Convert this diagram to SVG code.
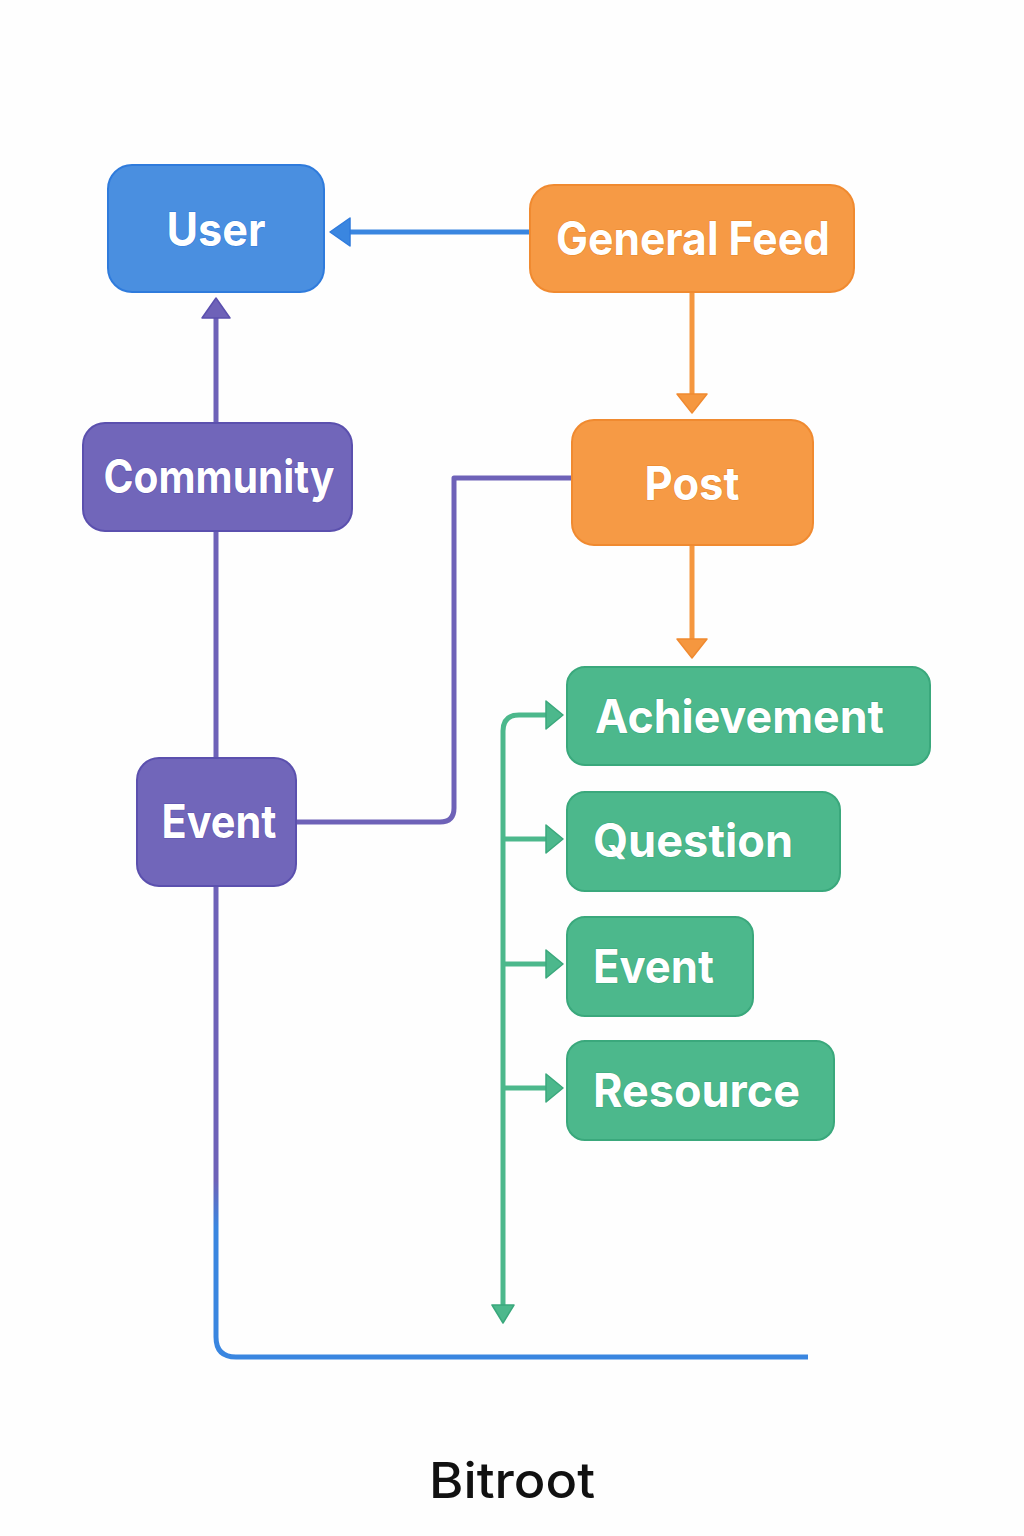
<svg xmlns="http://www.w3.org/2000/svg" width="1024" height="1536" viewBox="0 0 1024 1536">
<style>
.lbl{font-family:Inter,"Open Sans","Liberation Sans",sans-serif;font-weight:700;font-size:46px;fill:#fff;paint-order:stroke;stroke-width:1.2px}
.blue rect{fill:#4A8FE0;stroke:#2F7BDC;stroke-width:2}
.blue text{stroke:#2F7BDC}
.orange rect{fill:#F69A45;stroke:#F08A30;stroke-width:2}
.orange text{stroke:#E98628}
.purple rect{fill:#7166BA;stroke:#5B50AE;stroke-width:2}
.purple text{stroke:#5B50AE}
.green rect{fill:#4CB88C;stroke:#3AA87C;stroke-width:2}
.green text{stroke:#3AA87C}
.ln{fill:none;stroke-width:5;stroke-linejoin:round}
</style>
<defs>
<linearGradient id="pb" x1="0" y1="886" x2="0" y2="1360" gradientUnits="userSpaceOnUse">
<stop offset="0.62" stop-color="#6E62B8"/>
<stop offset="0.72" stop-color="#3A86E0"/>
</linearGradient>
</defs>
<rect width="1024" height="1536" fill="#FEFEFE"/>
<g id="connectors">
<!-- General Feed -> User -->
<path class="ln" d="M530,232 H348" stroke="#3A86E0"/>
<polygon points="330,232 350,218 350,246" fill="#3A86E0" stroke="#2F7BDC" stroke-width="1.5" stroke-linejoin="round"/>
<!-- General Feed -> Post -->
<path class="ln" d="M692,292 V395" stroke="#F5973F"/>
<polygon points="692,413 677,394 707,394" fill="#F5973F" stroke="#F08A30" stroke-width="1.5" stroke-linejoin="round"/>
<!-- Post -> Achievement -->
<path class="ln" d="M692,545 V640" stroke="#F5973F"/>
<polygon points="692,658 677,639 707,639" fill="#F5973F" stroke="#F08A30" stroke-width="1.5" stroke-linejoin="round"/>
<!-- Community -> User -->
<path class="ln" d="M216,423 V316" stroke="#6E62B8"/>
<polygon points="216,298 202,318 230,318" fill="#6E62B8" stroke="#5B50AE" stroke-width="1.5" stroke-linejoin="round"/>
<!-- Community - Event -->
<path class="ln" d="M216,531 V758" stroke="#6E62B8"/>
<!-- Event -> Post -->
<path class="ln" d="M296,822 H440 Q454,822 454,808 V478 H572" stroke="#6E62B8"/>
<!-- Event down to bottom -->
<path class="ln" d="M216,886 V1337 Q216,1357 236,1357 H808" stroke="url(#pb)"/>
<!-- green trunk -->
<path class="ln" d="M503,1305 V731 Q503,715 519,715 H548" stroke="#4CB88C"/>
<polygon points="503,1323 492,1305 514,1305" fill="#4CB88C" stroke="#3AA87C" stroke-width="1.5" stroke-linejoin="round"/>
<polygon points="563,715 546,701 546,729" fill="#4CB88C" stroke="#3AA87C" stroke-width="1.5" stroke-linejoin="round"/>
<path class="ln" d="M503,839 H548" stroke="#4CB88C"/>
<polygon points="563,839 546,825 546,853" fill="#4CB88C" stroke="#3AA87C" stroke-width="1.5" stroke-linejoin="round"/>
<path class="ln" d="M503,964 H548" stroke="#4CB88C"/>
<polygon points="563,964 546,950 546,978" fill="#4CB88C" stroke="#3AA87C" stroke-width="1.5" stroke-linejoin="round"/>
<path class="ln" d="M503,1088 H548" stroke="#4CB88C"/>
<polygon points="563,1088 546,1074 546,1102" fill="#4CB88C" stroke="#3AA87C" stroke-width="1.5" stroke-linejoin="round"/>
</g>
<g id="user" class="blue">
<rect x="108" y="165" width="216" height="127" rx="24"/>
<text class="lbl" x="216" y="246" text-anchor="middle" textLength="99" lengthAdjust="spacingAndGlyphs">User</text>
</g>
<g id="general-feed" class="orange">
<rect x="530" y="185" width="324" height="107" rx="24"/>
<text class="lbl" x="693" y="255" text-anchor="middle" textLength="274" lengthAdjust="spacingAndGlyphs">General Feed</text>
</g>
<g id="post" class="orange">
<rect x="572" y="420" width="241" height="125" rx="22"/>
<text class="lbl" x="692" y="500" text-anchor="middle" textLength="95" lengthAdjust="spacingAndGlyphs">Post</text>
</g>
<g id="community" class="purple">
<rect x="83" y="423" width="269" height="108" rx="22"/>
<text class="lbl" x="219" y="493" text-anchor="middle" textLength="231" lengthAdjust="spacingAndGlyphs">Community</text>
</g>
<g id="event-purple" class="purple">
<rect x="137" y="758" width="159" height="128" rx="22"/>
<text class="lbl" x="219" y="838" text-anchor="middle" textLength="115" lengthAdjust="spacingAndGlyphs">Event</text>
</g>
<g id="achievement" class="green">
<rect x="567" y="667" width="363" height="98" rx="18"/>
<text class="lbl" x="595" y="733" textLength="289" lengthAdjust="spacingAndGlyphs">Achievement</text>
</g>
<g id="question" class="green">
<rect x="567" y="792" width="273" height="99" rx="18"/>
<text class="lbl" x="593" y="857" textLength="200" lengthAdjust="spacingAndGlyphs">Question</text>
</g>
<g id="event-green" class="green">
<rect x="567" y="917" width="186" height="99" rx="18"/>
<text class="lbl" x="593" y="983" textLength="121" lengthAdjust="spacingAndGlyphs">Event</text>
</g>
<g id="resource" class="green">
<rect x="567" y="1041" width="267" height="99" rx="18"/>
<text class="lbl" x="593" y="1107" textLength="207" lengthAdjust="spacingAndGlyphs">Resource</text>
</g>
<text x="512" y="1498" text-anchor="middle" font-family="Inter,'Open Sans','Liberation Sans',sans-serif" font-weight="500" font-size="50" fill="#111" textLength="166" lengthAdjust="spacingAndGlyphs">Bitroot</text>
</svg>
